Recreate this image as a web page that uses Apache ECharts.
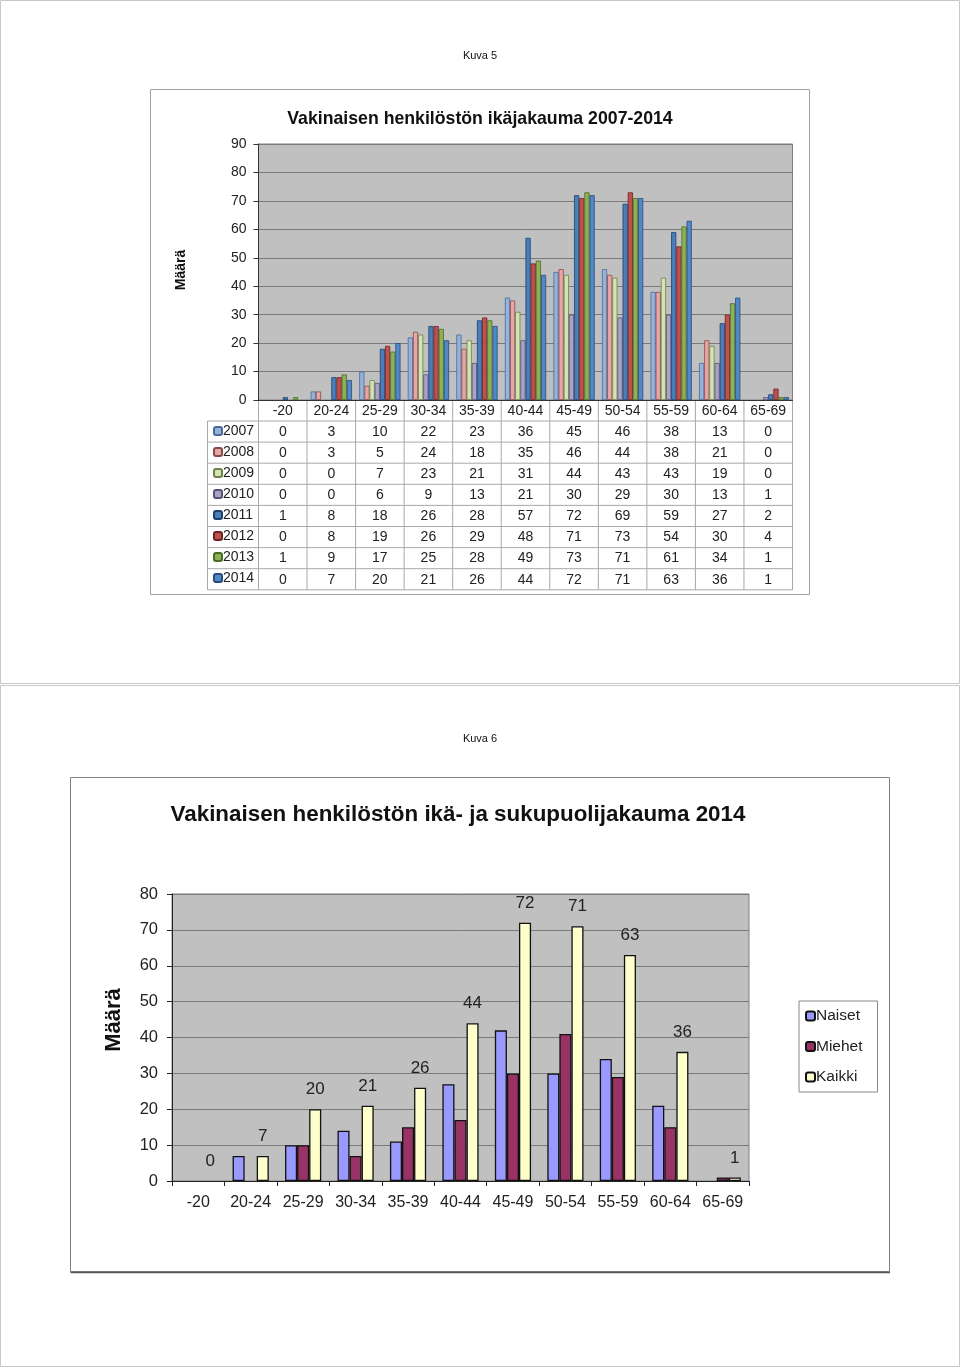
<!DOCTYPE html>
<html><head><meta charset="utf-8">
<script src="https://cdn.jsdelivr.net/npm/echarts@6/dist/echarts.min.js"></script>
<style>html,body{margin:0;padding:0;background:#fff}#c{width:960px;height:1367px}</style>
</head><body><div id="c"></div><script>
// ---- data ----
const ageGroups = ['-20','20-24','25-29','30-34','35-39','40-44','45-49','50-54','55-59','60-64','65-69'];
const years = ['2007','2008','2009','2010','2011','2012','2013','2014'];
const v2007 = [0,3,10,22,23,36,45,46,38,13,0];
const v2008 = [0,3,5,24,18,35,46,44,38,21,0];
const v2009 = [0,0,7,23,21,31,44,43,43,19,0];
const v2010 = [0,0,6,9,13,21,30,29,30,13,1];
const v2011 = [1,8,18,26,28,57,72,69,59,27,2];
const v2012 = [0,8,19,26,29,48,71,73,54,30,4];
const v2013 = [1,9,17,25,28,49,73,71,61,34,1];
const v2014 = [0,7,20,21,26,44,72,71,63,36,1];
const yearValues = [v2007,v2008,v2009,v2010,v2011,v2012,v2013,v2014];
const genders = ['Naiset','Miehet','Kaikki'];
const naiset = [0,7,10,14,11,27,42,30,34,21,0];
const miehet = [0,0,10,7,15,17,30,41,29,15,1];
const kaikki = [0,7,20,21,26,44,72,71,63,36,1];

// ---- styles ----
const FONT = 'Liberation Sans, Arial, sans-serif';
const TXT = '#222';
const yearFill = ['#95B3D7','#E6A6A5','#D4E3B5','#ABA3C6','#4A7EBB','#C0504D','#8DB255','#5088C8'];
const yearBorder = ['#4A6A99','#8B4A4A','#6D8244','#5A507A','#1F3F6B','#6B2220','#4A6A25','#2A4A7A'];
const genderFill = ['#9999FF','#993366','#FFFFCC'];

const g1 = {left:258.5, top:144, width:534, height:256};
const g2 = {left:172, top:894, width:577, height:287};
const rowH = 21.1;
const tableTop = 421;

// zero-height bars are not outlined (as in the original)
const hideZero = vals => vals.map(v => v === 0 ? {value:0, itemStyle:{borderWidth:0}} : v);

const chart = echarts.init(document.getElementById('c'), null, {renderer:'canvas'});

const xAxes = [];
xAxes.push({gridIndex:0, type:'category', data:ageGroups, position:'bottom',
  axisLine:{show:true, lineStyle:{color:'#333', width:1}}, axisTick:{show:false},
  axisLabel:{interval:0, margin:4, fontSize:14, color:TXT, fontFamily:FONT}});
yearValues.forEach((vals, i) => {
  xAxes.push({gridIndex:0, type:'category', data:ageGroups, position:'bottom',
    offset: (tableTop - 400) + rowH * i,
    axisLine:{show:false}, axisTick:{show:false}, splitLine:{show:false},
    axisLabel:{interval:0, margin:4, fontSize:14, color:TXT, fontFamily:FONT,
      formatter:(v, idx) => String(vals[idx])}});
});
xAxes.push({gridIndex:1, type:'category', data:ageGroups, position:'bottom',
  axisLine:{show:true, lineStyle:{color:'#222', width:1}},
  axisTick:{show:true, length:5, lineStyle:{color:'#222'}},
  axisLabel:{interval:0, margin:14, fontSize:16, color:TXT, fontFamily:FONT}});

const series = [];
yearValues.forEach((vals, i) => {
  series.push({name:years[i], type:'bar', xAxisIndex:0, yAxisIndex:0, data:hideZero(vals),
    barGap:'0%', barCategoryGap:'15%',
    itemStyle:{color:yearFill[i], borderColor:yearBorder[i], borderWidth:0.8}});
});
[naiset, miehet, kaikki].forEach((vals, i) => {
  series.push({name:genders[i], type:'bar', xAxisIndex:9, yAxisIndex:1, data:hideZero(vals),
    barGap:'0%', barCategoryGap:'31%',
    itemStyle:{color:genderFill[i], borderColor:'#111', borderWidth:1.3},
    label: i === 2 ? {show:true, position:'top', distance:11, fontSize:17, color:TXT, fontFamily:FONT} : {show:false}});
});

// table lines
const tableLines = [];
const colW = g1.width / ageGroups.length;
const tableRight = g1.left + g1.width;
for (let k = 0; k <= years.length; k++) {
  const y = tableTop + rowH * k;
  tableLines.push({type:'line', shape:{x1:207.5, y1:y, x2:tableRight, y2:y}, style:{stroke:'#A8A8A8', lineWidth:1}});
}
for (let j = 0; j <= ageGroups.length; j++) {
  const x = g1.left + colW * j;
  tableLines.push({type:'line', shape:{x1:x, y1:400, x2:x, y2:tableTop + rowH*years.length}, style:{stroke:'#A8A8A8', lineWidth:1}});
}
tableLines.push({type:'line', shape:{x1:207.5, y1:tableTop, x2:207.5, y2:tableTop + rowH*years.length}, style:{stroke:'#A8A8A8', lineWidth:1}});

const graphics = [
  {type:'rect', shape:{x:0.5, y:0.5, width:959, height:683}, style:{fill:'#fff', stroke:'#C8C8C8', lineWidth:1}, z:-10},
  {type:'rect', shape:{x:0.5, y:685.5, width:959, height:681}, style:{fill:'#fff', stroke:'#C8C8C8', lineWidth:1}, z:-10},
  {type:'rect', shape:{x:150.5, y:89.5, width:659, height:505}, style:{fill:'#fff', stroke:'#A0A0A0', lineWidth:1}, z:-9},
  {type:'rect', shape:{x:70.5, y:777.5, width:819, height:494}, style:{fill:'#fff', stroke:'#808080', lineWidth:1}, z:-9},
  {type:'line', shape:{x1:70.5, y1:1272.5, x2:890, y2:1272.5}, style:{stroke:'#555', lineWidth:1.5}, z:-8},
  {type:'text', style:{x:480, y:56, text:'Kuva 5', fill:'#111', font:'11px ' + FONT, textAlign:'center', textVerticalAlign:'middle'}},
  {type:'text', style:{x:480, y:739, text:'Kuva 6', fill:'#111', font:'11px ' + FONT, textAlign:'center', textVerticalAlign:'middle'}},
  {type:'text', style:{x:480, y:119.5, text:'Vakinaisen henkilöstön ikäjakauma 2007-2014', fill:'#111', font:'bold 17.7px ' + FONT, textAlign:'center', textVerticalAlign:'middle'}},
  {type:'text', style:{x:458, y:814.5, text:'Vakinaisen henkilöstön ikä- ja sukupuolijakauma 2014', fill:'#111', font:'bold 22.4px ' + FONT, textAlign:'center', textVerticalAlign:'middle'}},
  {type:'text', x:181, y:270, rotation:Math.PI/2, style:{x:0, y:0, text:'Määrä', fill:'#111', font:'bold 14px ' + FONT, textAlign:'center', textVerticalAlign:'middle'}},
  {type:'text', x:114, y:1020, rotation:Math.PI/2, style:{x:0, y:0, text:'Määrä', fill:'#111', font:'bold 22px ' + FONT, textAlign:'center', textVerticalAlign:'middle'}}
].concat(tableLines);

chart.setOption({
  animation:false,
  textStyle:{fontFamily:FONT},
  grid:[
    Object.assign({show:true, backgroundColor:'#C0C0C0', borderColor:'#808080', borderWidth:1}, g1),
    Object.assign({show:true, backgroundColor:'#C0C0C0', borderColor:'#808080', borderWidth:1}, g2)
  ],
  xAxis: xAxes,
  yAxis:[
    {gridIndex:0, type:'value', min:0, max:90, interval:10,
      axisLine:{show:true, lineStyle:{color:'#333'}}, axisTick:{show:true, length:5, lineStyle:{color:'#333'}},
      splitLine:{show:true, lineStyle:{color:'#7A7A7A', width:1}},
      axisLabel:{fontSize:14, color:TXT, margin:12, fontFamily:FONT}},
    {gridIndex:1, type:'value', min:0, max:80, interval:10,
      axisLine:{show:true, lineStyle:{color:'#222'}}, axisTick:{show:true, length:5, lineStyle:{color:'#222'}},
      splitLine:{show:true, lineStyle:{color:'#7A7A7A', width:1}},
      axisLabel:{fontSize:16.5, color:TXT, margin:14, fontFamily:FONT}}
  ],
  legend:[
    {data:years, orient:'vertical', left:213, top:424, padding:0, itemGap:7, itemWidth:8, itemHeight:8,
      selectedMode:false, textStyle:{fontSize:14, color:TXT, fontFamily:FONT, padding:[0,0,0,-4]}},
    {data:genders, orient:'vertical', left:799, top:1001, padding:[7,15,7,6], itemGap:14.5, itemWidth:9, itemHeight:9,
      selectedMode:false, backgroundColor:'#fff', borderColor:'#888', borderWidth:1,
      textStyle:{fontSize:15.5, color:TXT, fontFamily:FONT, padding:[0,0,0,-4]}}
  ],
  series: series,
  graphic: graphics
});
</script></body></html>
